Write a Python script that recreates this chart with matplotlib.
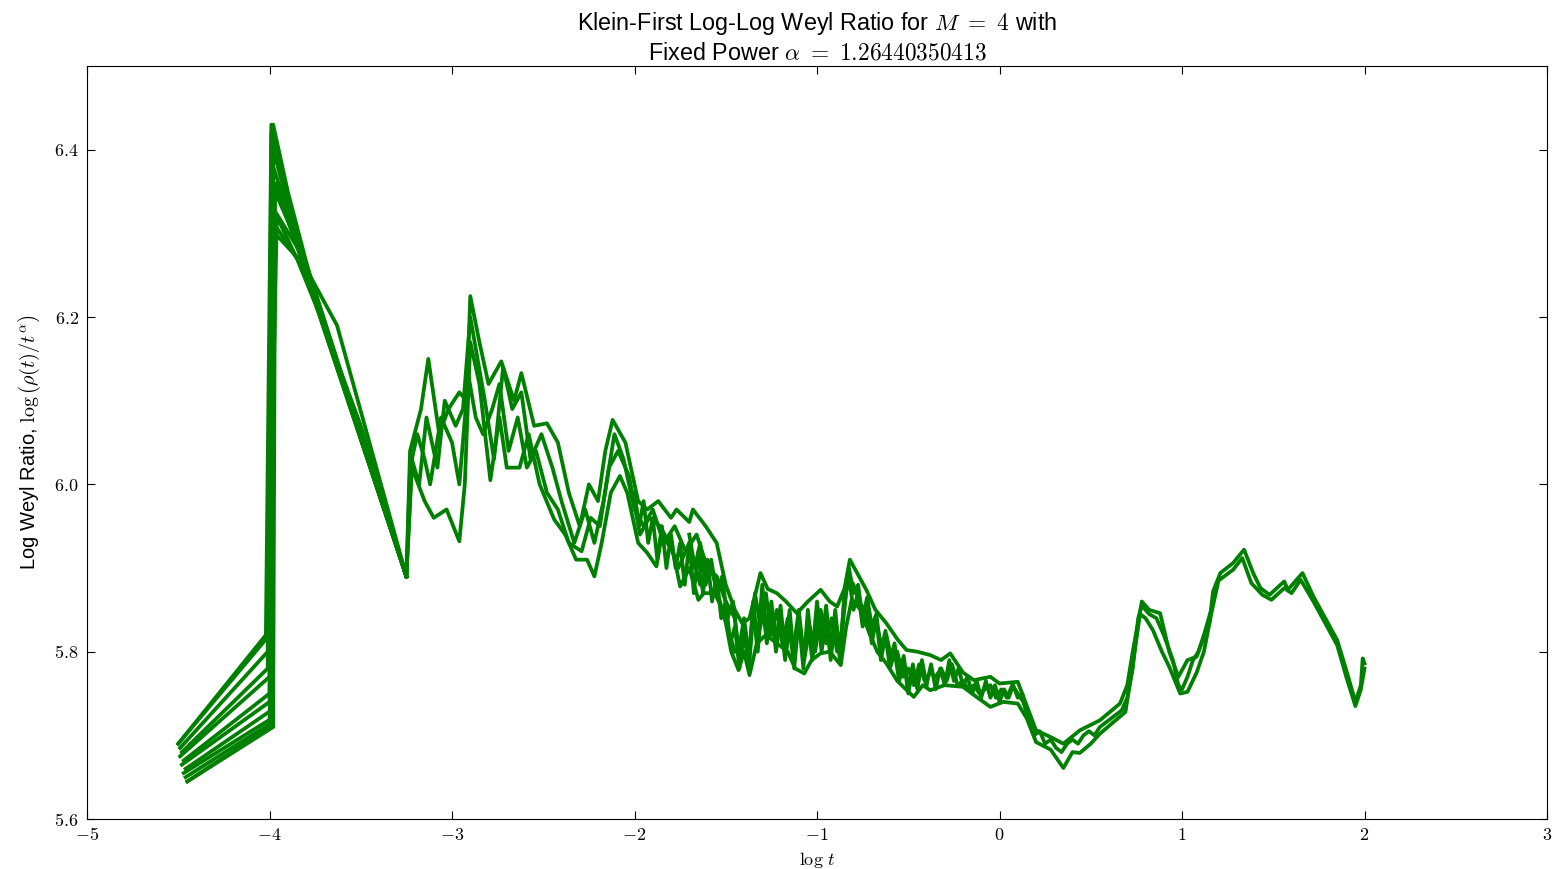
import matplotlib
matplotlib.use('Agg')

import matplotlib.pyplot as plt
from matplotlib.ticker import FuncFormatter, MultipleLocator

# fan of traces at the start -> first peak -> down to the dip at t=-3.25
fan_t0 = [-4.50, -4.49, -4.48, -4.49, -4.47, -4.48, -4.46, -4.47, -4.46, -4.45]
fan_y0 = [5.690, 5.685, 5.680, 5.675, 5.670, 5.665, 5.660, 5.655, 5.650, 5.645]
fan_t1 = [-4.02, -4.01, -4.01, -4.00, -4.00, -4.00, -3.99, -3.99, -3.99, -3.98]
fan_y1 = [5.820, 5.800, 5.780, 5.770, 5.750, 5.740, 5.730, 5.720, 5.715, 5.710]
fan_tp = [-3.99, -3.99, -3.98, -3.98, -3.98, -3.97, -3.97, -3.98, -3.97, -3.97]
fan_yp = [6.43, 6.42, 6.41, 6.40, 6.38, 6.36, 6.35, 6.33, 6.31, 6.30]
fan_tm = [-3.80, -3.81, -3.79, -3.80, -3.82, -3.78, -3.80, -3.81, -3.79, -3.80]
fan_ym = [6.250, 6.260, 6.245, 6.255, 6.270, 6.240, 6.265, 6.270, 6.250, 6.260]
dip_t, dip_y = -3.25, 5.89

# upper trace
hi_t = [-4.50, -4.00, -3.98, -3.90, -3.78, -3.63, -3.25, -3.23, -3.17, -3.13, -3.07,
        -3.02, -2.96, -2.92, -2.90, -2.85, -2.80, -2.73, -2.66, -2.62, -2.55, -2.48,
        -2.42, -2.36, -2.30, -2.25, -2.20, -2.16, -2.12, -2.05, -1.98, -1.93, -1.87,
        -1.80, -1.77, -1.70, -1.68, -1.61, -1.55, -1.50, -1.45, -1.41, -1.37, -1.31,
        -1.27, -1.22, -1.17, -1.11, -1.05, -0.98, -0.93, -0.89, -0.85, -0.82, -0.77,
        -0.73, -0.68, -0.62, -0.56, -0.51, -0.45, -0.38, -0.32, -0.27, -0.20, -0.14,
        -0.05, 0.00, 0.10, 0.15, 0.20, 0.28, 0.35, 0.44, 0.55, 0.66, 0.70, 0.73, 0.78,
        0.82, 0.88, 0.93, 0.98, 1.03, 1.08, 1.10, 1.15, 1.17, 1.21, 1.28, 1.34, 1.39,
        1.43, 1.48, 1.56, 1.58, 1.66, 1.72, 1.78, 1.85, 1.90, 1.95, 1.98, 1.99, 2.00]
hi_y = [5.690, 5.820, 6.430, 6.350, 6.250, 6.190, 5.890, 6.040, 6.090, 6.150, 6.060,
        6.090, 6.110, 6.100, 6.225, 6.170, 6.120, 6.147, 6.100, 6.133, 6.070, 6.073,
        6.050, 5.990, 5.950, 6.000, 5.980, 6.040, 6.077, 6.050, 5.980, 5.970, 5.980,
        5.960, 5.970, 5.955, 5.970, 5.950, 5.930, 5.880, 5.850, 5.834, 5.840, 5.894,
        5.875, 5.870, 5.860, 5.846, 5.860, 5.874, 5.860, 5.854, 5.875, 5.910, 5.890,
        5.874, 5.850, 5.834, 5.815, 5.802, 5.800, 5.796, 5.790, 5.798, 5.775, 5.766,
        5.770, 5.762, 5.764, 5.735, 5.706, 5.698, 5.690, 5.706, 5.718, 5.738, 5.760,
        5.800, 5.860, 5.850, 5.846, 5.800, 5.770, 5.790, 5.794, 5.806, 5.834, 5.872,
        5.894, 5.906, 5.922, 5.894, 5.876, 5.868, 5.884, 5.874, 5.894, 5.866, 5.842,
        5.814, 5.778, 5.740, 5.760, 5.792, 5.786]

# lower trace
lo_t = [-4.45, -4.00, -3.98, -3.96, -3.85, -3.72, -3.50, -3.25, -3.22, -3.15, -3.10,
        -3.03, -2.96, -2.93, -2.90, -2.85, -2.79, -2.74, -2.70, -2.63, -2.58, -2.52,
        -2.44, -2.38, -2.32, -2.26, -2.22, -2.18, -2.13, -2.08, -2.04, -1.98, -1.93,
        -1.88, -1.85, -1.79, -1.75, -1.70, -1.65, -1.62, -1.56, -1.51, -1.47, -1.43,
        -1.40, -1.37, -1.33, -1.28, -1.22, -1.16, -1.12, -1.07, -1.03, -0.98, -0.93,
        -0.87, -0.84, -0.81, -0.76, -0.72, -0.67, -0.62, -0.56, -0.47, -0.42, -0.38,
        -0.30, -0.20, -0.12, -0.05, 0.02, 0.10, 0.15, 0.20, 0.28, 0.35, 0.40, 0.44,
        0.50, 0.55, 0.62, 0.69, 0.72, 0.77, 0.80, 0.84, 0.89, 0.93, 0.99, 1.03, 1.08,
        1.12, 1.16, 1.20, 1.28, 1.33, 1.38, 1.44, 1.49, 1.56, 1.60, 1.65, 1.72, 1.78,
        1.85, 1.90, 1.95, 1.98, 2.00]
lo_y = [5.645, 5.710, 6.100, 6.320, 6.270, 6.200, 6.070, 5.890, 6.020, 5.980, 5.960,
        5.970, 5.932, 6.000, 6.170, 6.120, 6.005, 6.080, 6.020, 6.020, 6.060, 6.000,
        5.958, 5.940, 5.910, 5.910, 5.890, 5.930, 5.990, 6.010, 5.990, 5.930, 5.918,
        5.902, 5.940, 5.920, 5.878, 5.900, 5.862, 5.870, 5.870, 5.846, 5.800, 5.778,
        5.800, 5.772, 5.810, 5.820, 5.810, 5.800, 5.780, 5.774, 5.790, 5.798, 5.800,
        5.784, 5.830, 5.862, 5.850, 5.826, 5.800, 5.786, 5.765, 5.746, 5.760, 5.754,
        5.760, 5.758, 5.745, 5.734, 5.740, 5.738, 5.720, 5.692, 5.683, 5.661, 5.680,
        5.679, 5.690, 5.702, 5.715, 5.728, 5.770, 5.845, 5.840, 5.826, 5.800, 5.782,
        5.750, 5.752, 5.775, 5.800, 5.845, 5.885, 5.898, 5.912, 5.882, 5.868, 5.862,
        5.876, 5.870, 5.886, 5.860, 5.836, 5.808, 5.770, 5.735, 5.755, 5.780]

# two extra traces through the tangled early part
mesh_a_t = [-3.25, -3.22, -3.18, -3.14, -3.08, -3.04, -2.98, -2.94, -2.90, -2.86, -2.82,
            -2.77, -2.72, -2.67, -2.62, -2.57, -2.51, -2.45, -2.40, -2.33, -2.27, -2.22,
            -2.17, -2.11, -2.06, -2.00, -1.95, -1.90, -1.84, -1.78, -1.72, -1.66, -1.60,
            -1.55, -1.50, -1.45]
mesh_a_y = [5.89, 6.03, 6.00, 6.08, 6.02, 6.10, 6.07, 6.09, 6.20, 6.15, 6.10,
            6.03, 6.14, 6.09, 6.11, 6.03, 6.06, 6.02, 5.98, 5.93, 5.97, 5.93,
            5.98, 6.06, 6.03, 5.97, 5.95, 5.97, 5.93, 5.95, 5.92, 5.94, 5.90,
            5.89, 5.86, 5.84]
mesh_b_t = [-3.25, -3.23, -3.19, -3.15, -3.12, -3.06, -3.00, -2.96, -2.91, -2.87, -2.83,
            -2.78, -2.74, -2.69, -2.64, -2.59, -2.54, -2.48, -2.42, -2.36, -2.29, -2.24,
            -2.19, -2.14, -2.09, -2.03, -1.97, -1.92, -1.86, -1.81, -1.76, -1.70, -1.64,
            -1.58, -1.52, -1.45]
mesh_b_y = [5.89, 6.02, 6.06, 6.03, 6.00, 6.08, 6.05, 6.00, 6.13, 6.08, 6.06,
            6.09, 6.12, 6.04, 6.08, 6.02, 6.04, 5.99, 5.97, 5.93, 5.92, 5.96,
            5.95, 6.02, 6.04, 6.01, 5.94, 5.96, 5.95, 5.93, 5.90, 5.93, 5.88,
            5.90, 5.85, 5.80]

# jittery traces through the noisy band
mid_t = [-1.450, -1.425, -1.400, -1.375, -1.350, -1.325, -1.300, -1.275, -1.250, -1.225,
         -1.200, -1.175, -1.150, -1.125, -1.100, -1.075, -1.050, -1.025, -1.000, -0.975,
         -0.950, -0.925, -0.900, -0.875, -0.850, -0.825, -0.800, -0.775, -0.750, -0.725,
         -0.700, -0.675, -0.650, -0.625, -0.600, -0.575, -0.550, -0.525, -0.500, -0.475,
         -0.450, -0.425, -0.400, -0.375, -0.350, -0.325, -0.300, -0.275, -0.250, -0.225,
         -0.200, -0.175, -0.150, -0.125, -0.100, -0.075, -0.050, -0.025, 0.000, 0.025,
         0.050, 0.075, 0.100, 0.125, 0.150]
mid_y = [5.840, 5.790, 5.830, 5.780, 5.860, 5.810, 5.880, 5.820, 5.860, 5.810,
         5.855, 5.800, 5.850, 5.790, 5.840, 5.780, 5.850, 5.800, 5.860, 5.810,
         5.855, 5.800, 5.850, 5.790, 5.870, 5.900, 5.870, 5.880, 5.840, 5.865,
         5.830, 5.845, 5.800, 5.825, 5.790, 5.810, 5.770, 5.795, 5.755, 5.785,
         5.755, 5.790, 5.760, 5.785, 5.755, 5.780, 5.760, 5.790, 5.765, 5.780,
         5.760, 5.770, 5.750, 5.765, 5.745, 5.765, 5.745, 5.760, 5.740, 5.755,
         5.745, 5.760, 5.745, 5.750, 5.725]

mid2_t = [-1.70, -1.67, -1.64, -1.61, -1.58, -1.55, -1.52, -1.49, -1.46, -1.43,
          -1.40, -1.37, -1.34, -1.31, -1.28, -1.25, -1.22, -1.19, -1.16, -1.13,
          -1.10, -1.07, -1.04, -1.01, -0.98, -0.95, -0.92, -0.89, -0.86, -0.83,
          -0.80, -0.77, -0.74, -0.71, -0.68, -0.65, -0.62, -0.59, -0.56, -0.53,
          -0.50, -0.47, -0.44, -0.41, -0.38, -0.35, -0.32, -0.29, -0.26, -0.23,
          -0.20, -0.17, -0.14, -0.11, -0.08, -0.05, -0.02, 0.01, 0.04, 0.07,
          0.10, 0.13, 0.16, 0.19, 0.22, 0.25, 0.28, 0.31, 0.34, 0.37,
          0.40, 0.43, 0.46, 0.49, 0.52, 0.55, 0.58, 0.61, 0.64, 0.67,
          0.70, 0.73, 0.76, 0.78]
mid2_y = [5.940, 5.900, 5.930, 5.880, 5.910, 5.870, 5.890, 5.840, 5.860, 5.800,
          5.840, 5.790, 5.870, 5.830, 5.870, 5.820, 5.850, 5.810, 5.840, 5.800,
          5.850, 5.790, 5.830, 5.800, 5.850, 5.810, 5.840, 5.800, 5.830, 5.890,
          5.880, 5.860, 5.850, 5.820, 5.840, 5.810, 5.820, 5.790, 5.800, 5.770,
          5.780, 5.760, 5.785, 5.765, 5.775, 5.770, 5.780, 5.765, 5.785, 5.760,
          5.765, 5.755, 5.760, 5.750, 5.755, 5.760, 5.745, 5.755, 5.745, 5.760,
          5.750, 5.740, 5.720, 5.700, 5.705, 5.690, 5.695, 5.685, 5.680, 5.690,
          5.695, 5.690, 5.700, 5.705, 5.700, 5.710, 5.715, 5.720, 5.725, 5.730,
          5.745, 5.780, 5.840, 5.855]

mid3_t = [-2.000, -1.975, -1.950, -1.925, -1.900, -1.875, -1.850, -1.825, -1.800, -1.775,
          -1.750, -1.725, -1.700, -1.675, -1.650, -1.625, -1.600, -1.575, -1.550, -1.525,
          -1.500, -1.475, -1.450, -1.425, -1.400, -1.375, -1.350, -1.325, -1.300, -1.275,
          -1.250, -1.225, -1.200, -1.175, -1.150, -1.125, -1.100, -1.075, -1.050, -1.025,
          -1.000, -0.975, -0.950, -0.925, -0.900, -0.875, -0.850, -0.825, -0.800, -0.775,
          -0.750, -0.725, -0.700, -0.675, -0.650, -0.625, -0.600, -0.575, -0.550, -0.525,
          -0.500, -0.475, -0.450, -0.425, -0.400]
mid3_y = [5.990, 5.950, 5.980, 5.930, 5.960, 5.910, 5.950, 5.900, 5.940, 5.900,
          5.930, 5.880, 5.930, 5.870, 5.920, 5.870, 5.910, 5.860, 5.890, 5.840,
          5.860, 5.810, 5.830, 5.780, 5.820, 5.790, 5.850, 5.800, 5.860, 5.810,
          5.850, 5.800, 5.840, 5.790, 5.830, 5.780, 5.840, 5.790, 5.830, 5.790,
          5.850, 5.800, 5.840, 5.790, 5.840, 5.800, 5.860, 5.890, 5.850, 5.870,
          5.830, 5.850, 5.810, 5.840, 5.790, 5.820, 5.780, 5.800, 5.765, 5.790,
          5.750, 5.780, 5.760, 5.785, 5.760]

# split strands around the dip near t=1
loop_t = [0.78, 0.82, 0.86, 0.90, 0.95, 0.98, 1.00, 1.03, 1.06, 1.09, 1.12, 1.16]
loop_y = [5.855, 5.845, 5.840, 5.820, 5.790, 5.760, 5.755, 5.770, 5.790, 5.800,
          5.820, 5.850]

plt.rcParams['font.family'] = ['Liberation Sans', 'DejaVu Sans']
plt.rcParams['mathtext.fontset'] = 'cm'

fig = plt.figure(figsize=(15.54, 8.69), dpi=100)
ax = fig.add_axes([0.056, 0.0575, 0.9395, 0.8665])

green = '#008000'
lw = 2.7
for i in range(len(fan_t0)):
    ax.plot([fan_t0[i], fan_t1[i], fan_tp[i], fan_tm[i], dip_t],
            [fan_y0[i], fan_y1[i], fan_yp[i], fan_ym[i], dip_y], color=green, lw=lw)
ax.plot(hi_t, hi_y, color=green, lw=lw)
ax.plot(lo_t, lo_y, color=green, lw=lw)
ax.plot(mesh_a_t, mesh_a_y, color=green, lw=lw)
ax.plot(mesh_b_t, mesh_b_y, color=green, lw=lw)
ax.plot(mid_t, mid_y, color=green, lw=lw)
ax.plot(mid2_t, mid2_y, color=green, lw=lw)
ax.plot(mid3_t, mid3_y, color=green, lw=lw)
ax.plot(loop_t, loop_y, color=green, lw=lw)

ax.set_xlim(-5, 3)
ax.set_ylim(5.6, 6.5)
ax.xaxis.set_major_locator(MultipleLocator(1))
ax.yaxis.set_major_locator(MultipleLocator(0.2))
ax.xaxis.set_major_formatter(FuncFormatter(lambda v, p: '$%d$' % round(v)))
ax.yaxis.set_major_formatter(FuncFormatter(lambda v, p: '$%.1f$' % v))
ax.tick_params(direction='in', top=True, right=True, length=6, width=0.8,
               labelsize=13, pad=6)

ax.set_xlabel(r'$\log\,t$', fontsize=13)
ax.set_ylabel(r'Log Weyl Ratio, $\log\left(\rho(t)/t^\alpha\right)$', fontsize=14.5,
              labelpad=8)
ax.set_title('Klein-First Log-Log Weyl Ratio for $M\\ =\\ 4$ with\n'
             r'Fixed Power $\alpha\ =\ 1.26440350413$', fontsize=16.8, pad=5)

fig.savefig('out.png', dpi=100)
plt.close(fig)
